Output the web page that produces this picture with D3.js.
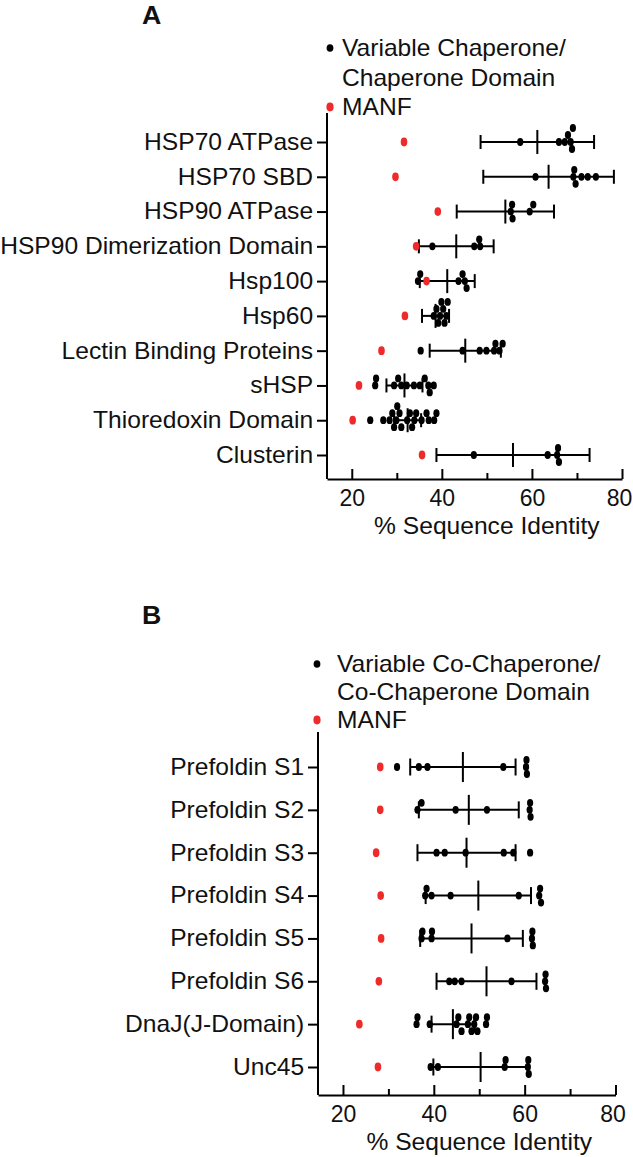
<!DOCTYPE html>
<html>
<head>
<meta charset="utf-8">
<script src="https://cdn.jsdelivr.net/npm/d3@7"></script>
<style>
  body { margin: 0; background: #fff; }
  text { font-family: "Liberation Sans", Arial, sans-serif; fill: #111; }
</style>
</head>
<body>
<div id="chart"></div>
<script>
// ---- panel A data ----
var catsA = ["HSP70 ATPase", "HSP70 SBD", "HSP90 ATPase", "HSP90 Dimerization Domain",
  "Hsp100", "Hsp60", "Lectin Binding Proteins", "sHSP", "Thioredoxin Domain", "Clusterin"];
var manfA = [31.6, 29.7, 39.1, 34.3, 36.6, 31.8, 26.6, 21.6, 20.2, 35.6];
var meanA = [61.2, 63.7, 54.1, 43.2, 41.2, 38.6, 45.2, 31.7, 32.4, 55.8];
var sdA = [12.6, 14.5, 10.8, 8.3, 6.1, 3.0, 7.9, 4.0, 3.0, 17.0];
var dotsA = [
  [57.4, 66.0, 67.3, 68.0, 68.6, 68.9, 69.1],
  [60.8, 69.2, 69.4, 69.7, 71.0, 72.4, 74.2],
  [55.3, 55.6, 55.7, 59.5, 60.3],
  [37.9, 47.2, 48.3, 48.5],
  [34.7, 35.2, 43.7, 44.6, 45.1, 45.5],
  [38.2, 38.8, 39.2, 39.6, 39.9, 40.3, 40.6, 41.0, 41.3],
  [35.3, 44.6, 48.4, 49.9, 51.6, 51.9, 52.8, 53.5],
  [25.2, 25.4, 29.4, 30.3, 31.0, 32.2, 33.8, 35.1, 36.2, 37.0, 37.3, 38.2],
  [24.1, 27.0, 28.4, 29.0, 29.4, 29.9, 30.1, 30.6, 31.0, 32.3, 32.9, 33.4, 33.9, 34.3, 35.5, 36.6, 37.1, 38.3, 38.8],
  [47.1, 63.5, 65.6, 65.8, 66.0]
];

// ---- panel B data ----
var catsB = ["Prefoldin S1", "Prefoldin S2", "Prefoldin S3", "Prefoldin S4",
  "Prefoldin S5", "Prefoldin S6", "DnaJ(J-Domain)", "Unc45"];
var manfB = [28.2, 28.2, 27.3, 28.3, 28.4, 27.9, 23.6, 27.7];
var meanB = [46.4, 47.7, 47.2, 49.8, 48.3, 51.6, 44.2, 50.3];
var sdB = [11.6, 11.0, 10.8, 11.6, 11.3, 11.0, 4.7, 10.4];
var dotsB = [
  [31.9, 36.7, 38.6, 55.3, 60.3, 60.4, 60.5],
  [36.4, 37.3, 44.8, 51.7, 61.1, 61.2, 61.3],
  [40.6, 42.4, 47.0, 55.4, 57.5, 61.2],
  [38.1, 38.4, 39.5, 43.7, 58.7, 63.2, 63.4, 63.6],
  [37.3, 37.5, 39.5, 39.6, 56.2, 61.6, 61.7, 61.8],
  [43.4, 44.6, 46.1, 57.1, 64.5, 64.6, 64.7],
  [36.2, 36.4, 39.1, 45.0, 45.4, 46.1, 47.5, 47.8, 48.3, 48.9, 49.3, 49.6, 51.5, 51.7],
  [39.3, 40.9, 55.6, 55.8, 60.7, 60.8, 60.9]
];

var majorTicks = [20, 40, 60, 80];
var minorTicks = [30, 50, 70];
var xDomain = [14.5, 80];

var red = "#ee2a2a";
var fs = 23;      // font size
var sx = 1.07;    // the source font runs a bit wide

var svg = d3.select("#chart").append("svg")
  .attr("width", 633)
  .attr("height", 1157);

svg.append("rect").attr("width", 633).attr("height", 1157).attr("fill", "#fff");

// stack overlapping dots vertically, prism style
function swarm(vals, x, rx, step) {
  var placed = [];
  var cands = [0, -step, step, -2 * step, 2 * step, -3 * step, 3 * step];
  return vals.slice().sort(d3.ascending).map(function(v) {
    var px = x(v);
    var off = cands.find(function(o) {
      return placed.every(function(p) {
        return Math.abs(p.px - px) >= 2 * rx - 0.8 || Math.abs(p.off - o) >= step - 0.1;
      });
    });
    if (off === undefined) off = 0;
    placed.push({ px: px, off: off });
    return { v: v, off: off };
  });
}

function drawPanel(p) {
  var g = svg.append("g");

  var x = d3.scaleLinear().domain(xDomain).range([p.left, p.right]);
  var y = d3.scalePoint().domain(p.cats).range([p.rowTop, p.rowBottom]);

  // panel letter
  g.append("text")
    .attr("transform", "translate(142," + p.letterY + ") scale(" + sx + ",1)")
    .attr("dy", "0.35em")
    .style("font-size", "25px")
    .style("font-weight", "bold")
    .text(p.letter);

  // legend
  var lg = g.append("g");
  lg.append("ellipse").attr("cx", p.legDotX).attr("cy", p.legY[0])
    .attr("rx", 3.4).attr("ry", 3.8).attr("fill", "#000");
  lg.append("ellipse").attr("cx", p.legDotX).attr("cy", p.legY[2])
    .attr("rx", 3.6).attr("ry", 4.4).attr("fill", red);
  p.legText.forEach(function(t, i) {
    lg.append("text")
      .attr("transform", "translate(" + p.legTextX + "," + p.legY[i] + ") scale(" + sx + ",1)")
      .attr("dy", "0.35em")
      .style("font-size", fs + "px")
      .text(t);
  });

  // y axis
  var yAxis = g.append("g")
    .attr("transform", "translate(" + p.left + ",0)")
    .call(d3.axisLeft(y).tickSize(10).tickPadding(3));
  yAxis.select(".domain").remove();
  yAxis.selectAll(".tick line").attr("stroke", "#000").attr("stroke-width", 2);
  yAxis.selectAll(".tick text")
    .attr("transform", "scale(" + sx + ",1)")
    .style("font-size", fs + "px")
    .style("font-family", "'Liberation Sans', Arial, sans-serif")
    .attr("fill", "#111");
  g.append("line")
    .attr("x1", p.left).attr("x2", p.left)
    .attr("y1", p.axisTop).attr("y2", p.axisY)
    .attr("stroke", "#000").attr("stroke-width", 2);

  // x axis, ticks point inward
  var xAxis = g.append("g")
    .attr("transform", "translate(0," + p.axisY + ")")
    .call(d3.axisBottom(x).tickValues(majorTicks).tickSize(-10).tickSizeOuter(0));
  xAxis.select(".domain").attr("stroke", "#000").attr("stroke-width", 2);
  xAxis.selectAll(".tick line").attr("stroke", "#000").attr("stroke-width", 2);
  xAxis.selectAll(".tick text")
    .attr("y", 18.5).attr("dy", "0.35em")
    .attr("dx", function(d) { return d === 80 ? -3 : 0; })
    .style("font-size", fs + "px")
    .style("font-family", "'Liberation Sans', Arial, sans-serif")
    .attr("fill", "#111");
  var xMinor = g.append("g")
    .attr("transform", "translate(0," + p.axisY + ")")
    .call(d3.axisBottom(x).tickValues(minorTicks).tickSize(-6).tickFormat(""));
  xMinor.select(".domain").remove();
  xMinor.selectAll(".tick line").attr("stroke", "#000").attr("stroke-width", 2);

  g.append("text")
    .attr("transform", "translate(" + x(50) + "," + (p.axisY + 47) + ") scale(" + sx + ",1)")
    .attr("text-anchor", "middle")
    .attr("dy", "0.35em")
    .style("font-size", fs + "px")
    .text("% Sequence Identity");

  // rows
  p.cats.forEach(function(c, i) {
    var cy = y(c);
    var row = g.append("g");
    var lo = p.mean[i] - p.sd[i];
    var hi = p.mean[i] + p.sd[i];

    // error bar: mean +/- sd
    row.append("line")
      .attr("x1", x(lo)).attr("x2", x(hi))
      .attr("y1", cy).attr("y2", cy)
      .attr("stroke", "#000").attr("stroke-width", 2);
    [lo, hi].forEach(function(v) {
      row.append("line")
        .attr("x1", x(v)).attr("x2", x(v))
        .attr("y1", cy - p.capH).attr("y2", cy + p.capH)
        .attr("stroke", "#000").attr("stroke-width", 2);
    });
    row.append("line")
      .attr("x1", x(p.mean[i])).attr("x2", x(p.mean[i]))
      .attr("y1", cy - p.meanH).attr("y2", cy + p.meanH)
      .attr("stroke", "#000").attr("stroke-width", 2);

    // individual domains
    row.selectAll(".dot")
      .data(swarm(p.dots[i], x, 3.1, 7))
      .enter()
      .append("ellipse")
      .attr("class", "dot")
      .attr("cx", function(d) { return x(d.v); })
      .attr("cy", function(d) { return cy + d.off; })
      .attr("rx", 3.1)
      .attr("ry", 3.9)
      .attr("fill", "#000");

    // MANF
    row.append("ellipse")
      .attr("cx", x(p.manf[i]))
      .attr("cy", cy)
      .attr("rx", 3.3)
      .attr("ry", 4.4)
      .attr("fill", red);
  });
}

drawPanel({
  letter: "A", letterY: 15,
  cats: catsA, manf: manfA, mean: meanA, sd: sdA, dots: dotsA,
  left: 327, right: 622,
  rowTop: 142, rowBottom: 455,
  axisTop: 113, axisY: 479,
  capH: 7, meanH: 12,
  legDotX: 330, legTextX: 342, legY: [48, 78, 107],
  legText: ["Variable Chaperone/", "Chaperone Domain", "MANF"]
});

drawPanel({
  letter: "B", letterY: 615,
  cats: catsB, manf: manfB, mean: meanB, sd: sdB, dots: dotsB,
  left: 318, right: 615.5,
  rowTop: 767, rowBottom: 1067,
  axisTop: 732, axisY: 1095,
  capH: 8.5, meanH: 15,
  legDotX: 317, legTextX: 337, legY: [664, 692, 720],
  legText: ["Variable Co-Chaperone/", "Co-Chaperone Domain", "MANF"]
});
</script>
</body>
</html>
